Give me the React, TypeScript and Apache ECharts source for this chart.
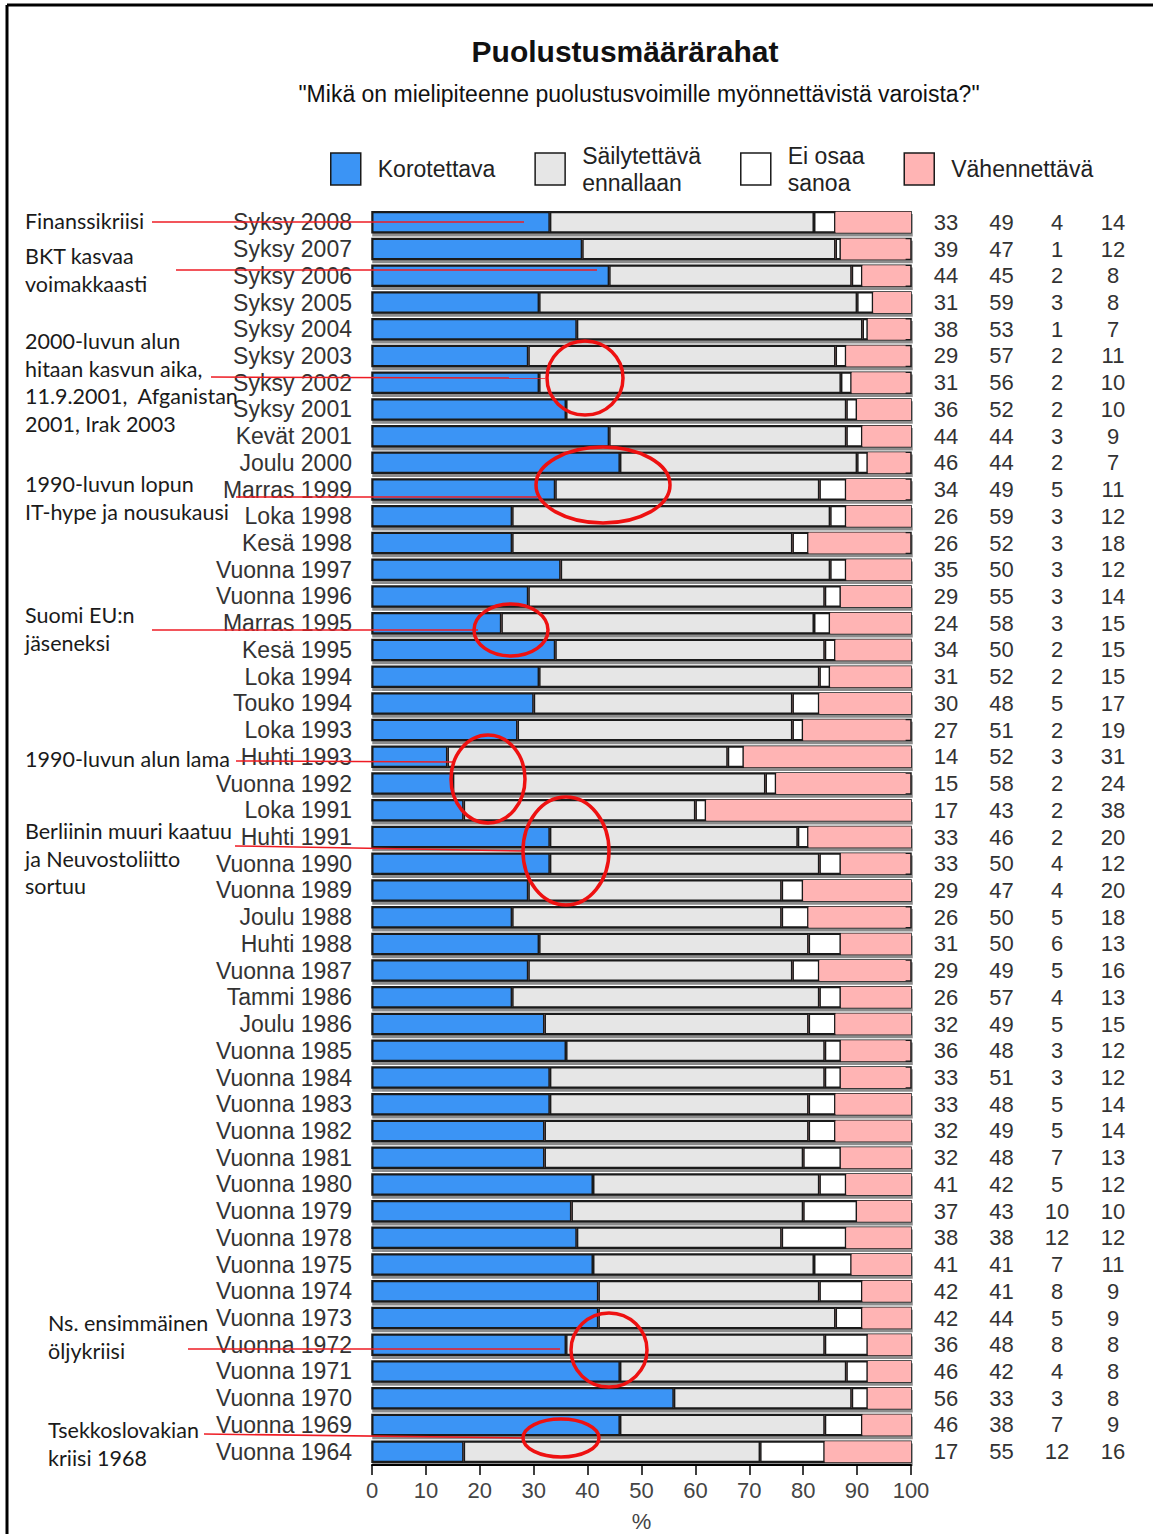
import React, { useEffect, useRef } from "react";
import * as echarts from "echarts";

const categories = [
  "Syksy 2008", "Syksy 2007", "Syksy 2006", "Syksy 2005", "Syksy 2004", "Syksy 2003",
  "Syksy 2002", "Syksy 2001", "Kevät 2001", "Joulu 2000", "Marras 1999", "Loka 1998",
  "Kesä 1998", "Vuonna 1997", "Vuonna 1996", "Marras 1995", "Kesä 1995", "Loka 1994",
  "Touko 1994", "Loka 1993", "Huhti 1993", "Vuonna 1992", "Loka 1991", "Huhti 1991",
  "Vuonna 1990", "Vuonna 1989", "Joulu 1988", "Huhti 1988", "Vuonna 1987", "Tammi 1986",
  "Joulu 1986", "Vuonna 1985", "Vuonna 1984", "Vuonna 1983", "Vuonna 1982", "Vuonna 1981",
  "Vuonna 1980", "Vuonna 1979", "Vuonna 1978", "Vuonna 1975", "Vuonna 1974", "Vuonna 1973",
  "Vuonna 1972", "Vuonna 1971", "Vuonna 1970", "Vuonna 1969", "Vuonna 1964",
];

const korotettava = [
  33, 39, 44, 31, 38, 29, 31, 36, 44, 46, 34, 26, 26, 35, 29, 24, 34, 31, 30, 27, 14, 15, 17, 33,
  33, 29, 26, 31, 29, 26, 32, 36, 33, 33, 32, 32, 41, 37, 38, 41, 42, 42, 36, 46, 56, 46, 17,
];
const sailytettava = [
  49, 47, 45, 59, 53, 57, 56, 52, 44, 44, 49, 59, 52, 50, 55, 58, 50, 52, 48, 51, 52, 58, 43, 46,
  50, 47, 50, 50, 49, 57, 49, 48, 51, 48, 49, 48, 42, 43, 38, 41, 41, 44, 48, 42, 33, 38, 55,
];
const eiOsaa = [
  4, 1, 2, 3, 1, 2, 2, 2, 3, 2, 5, 3, 3, 3, 3, 3, 2, 2, 5, 2, 3, 2, 2, 2,
  4, 4, 5, 6, 5, 4, 5, 3, 3, 5, 5, 7, 5, 10, 12, 7, 8, 5, 8, 4, 3, 7, 12,
];
const vahennettava = [
  14, 12, 8, 8, 7, 11, 10, 10, 9, 7, 11, 12, 18, 12, 14, 15, 15, 15, 17, 19, 31, 24, 38, 20,
  12, 20, 18, 13, 16, 13, 15, 12, 12, 14, 14, 13, 12, 10, 12, 11, 9, 9, 8, 8, 8, 9, 16,
];

const seriesNames = ["Korotettava", "Säilytettävä\nennallaan", "Ei osaa\nsanoa", "Vähennettävä"];
const seriesColors = ["#3b94f5", "#e6e6e6", "#ffffff", "#ffb4b4"];

const annotations: { lines: string[]; x: number; y: number }[] = [
  { lines: ["Finanssikriisi"], x: 25, y: 221 },
  { lines: ["BKT kasvaa", "voimakkaasti"], x: 25, y: 256 },
  { lines: ["2000-luvun alun", "hitaan kasvun aika,", "11.9.2001,  Afganistan", "2001, Irak 2003"], x: 25, y: 341 },
  { lines: ["1990-luvun lopun", "IT-hype ja nousukausi"], x: 25, y: 484 },
  { lines: ["Suomi EU:n", "jäseneksi"], x: 25, y: 615 },
  { lines: ["1990-luvun alun lama"], x: 25, y: 759 },
  { lines: ["Berliinin muuri kaatuu", "ja Neuvostoliitto", "sortuu"], x: 25, y: 831 },
  { lines: ["Ns. ensimmäinen", "öljykriisi"], x: 48, y: 1323 },
  { lines: ["Tsekkoslovakian", "kriisi 1968"], x: 48, y: 1430 },
];

const redLines = [
  [152, 222, 524, 222],
  [176, 270, 597, 270],
  [211, 377, 545, 378],
  [236, 497, 537, 497],
  [152, 630, 478, 630],
  [236, 761, 453, 762],
  [235, 846, 524, 851],
  [188, 1349, 560, 1349],
  [204, 1434, 524, 1438],
];

const ellipses = [
  [585, 378, 38, 37],
  [603, 485, 67, 38],
  [511, 630, 37, 26],
  [488, 779, 37, 44],
  [566, 851, 43, 54],
  [609, 1350, 38, 37],
  [561, 1438, 38, 19],
];

export default function App() {
  const ref = useRef<HTMLDivElement>(null);
  useEffect(() => {
    if (!ref.current) return;
    const chart = echarts.init(ref.current, null, { renderer: "svg" });
    const values = [korotettava, sailytettava, eiOsaa, vahennettava];

    const graphics: any[] = [];
    graphics.push({ type: "line", shape: { x1: 7, y1: 5, x2: 1153, y2: 5 }, style: { stroke: "#000", lineWidth: 3 }, z: 100 });
    graphics.push({ type: "line", shape: { x1: 7, y1: 5, x2: 7, y2: 1534 }, style: { stroke: "#000", lineWidth: 3 }, z: 100 });
    annotations.forEach((a) => {
      a.lines.forEach((t, i) => {
        graphics.push({
          type: "text",
          z: 100,
          style: {
            text: t,
            x: a.x,
            y: a.y + i * 27.5,
            fill: "#1a1a1a",
            font: "21.5px Lato",
            textVerticalAlign: "middle",
          },
        });
      });
    });
    redLines.forEach((l) => {
      graphics.push({
        type: "line",
        z: 110,
        shape: { x1: l[0], y1: l[1], x2: l[2], y2: l[3] },
        style: { stroke: "#ee1c24", lineWidth: 1.5 },
      });
    });
    ellipses.forEach((e) => {
      graphics.push({
        type: "ellipse",
        z: 110,
        shape: { cx: e[0], cy: e[1], rx: e[2], ry: e[3] },
        style: { fill: "none", stroke: "#ee1111", lineWidth: 3.5 },
      });
    });

    const option: any = {
      animation: false,
      backgroundColor: "#ffffff",
      textStyle: { fontFamily: "Liberation Sans" },
      title: [
        {
          text: "Puolustusmäärärahat",
          left: 620,
          textAlign: "center",
          top: 31,
          textStyle: { fontSize: 30, fontWeight: "bold", color: "#111", fontFamily: "Liberation Sans" },
        },
        {
          text: "\"Mikä on mielipiteenne puolustusvoimille myönnettävistä varoista?\"",
          left: 634,
          textAlign: "center",
          top: 77,
          textStyle: { fontSize: 23, fontWeight: "normal", color: "#111", fontFamily: "Liberation Sans" },
        },
      ],
      legend: {
        data: seriesNames.map((name, i) => ({
          name,
          itemStyle: { color: seriesColors[i], borderColor: "#1a1a1a", borderWidth: 1.5 },
        })),
        left: 325,
        top: 137,
        itemWidth: 30,
        itemHeight: 32,
        itemGap: 39,
        icon: "rect",
        textStyle: { fontSize: 23, color: "#222", lineHeight: 27, padding: [0, 0, 0, 12], fontFamily: "Liberation Sans" },
        selectedMode: false,
      },
      grid: { left: 372, right: 242, top: 209, height: 1256, containLabel: false, outerBoundsMode: "none" },
      xAxis: {
        type: "value",
        min: 0,
        max: 100,
        interval: 10,
        name: "%",
        nameLocation: "middle",
        nameGap: 45,
        nameTextStyle: { fontSize: 22, color: "#444" },
        axisLine: { show: true, lineStyle: { color: "#000", width: 2 } },
        axisTick: { show: true, length: 10, lineStyle: { color: "#000", width: 1.5 } },
        axisLabel: { fontSize: 22, color: "#444", margin: 14 },
        splitLine: { show: false },
      },
      yAxis: [
        {
          type: "category",
          data: categories,
          inverse: true,
          axisLine: { show: false },
          axisTick: { show: false },
          axisLabel: { fontSize: 23, color: "#333", margin: 20, interval: 0 },
        },
        {
          type: "category",
          data: categories,
          inverse: true,
          position: "right",
          axisLine: { show: false },
          axisTick: { show: false },
          axisLabel: {
            margin: 7,
            align: "left",
            interval: 0,
            formatter: (_v: string, i: number) =>
              `{a|${korotettava[i]}}{b|${sailytettava[i]}}{c|${eiOsaa[i]}}{d|${vahennettava[i]}}`,
            rich: {
              a: { width: 56, align: "center", fontSize: 22, color: "#333" },
              b: { width: 55, align: "center", fontSize: 22, color: "#333" },
              c: { width: 56, align: "center", fontSize: 22, color: "#333" },
              d: { width: 56, align: "center", fontSize: 22, color: "#333" },
            },
          },
        },
      ],
      series: seriesNames.map((name, si) => ({
        name,
        type: "bar",
        stack: "total",
        barWidth: 21,
        yAxisIndex: 0,
        data: values[si],
        showBackground: si === 0,
        backgroundStyle:
          si === 0
            ? {
                color: "#ffb4b4",
                borderColor: "#1a1a1a",
                borderWidth: 1.5,
                shadowColor: "rgba(0,0,0,0.45)",
                shadowOffsetY: 3,
                shadowOffsetX: 1,
                shadowBlur: 0,
              }
            : undefined,
        itemStyle:
          si === 3
            ? { color: seriesColors[si], borderWidth: 0 }
            : { color: seriesColors[si], borderColor: "#1a1a1a", borderWidth: 1.5 },
      })),
      graphic: graphics,
    };
    chart.setOption(option);
    return () => chart.dispose();
  }, []);
  return (
    <div
      ref={ref}
      style={{ position: "fixed", left: 0, top: 0, width: 1153, height: 1534, background: "#fff" }}
    />
  );
}
